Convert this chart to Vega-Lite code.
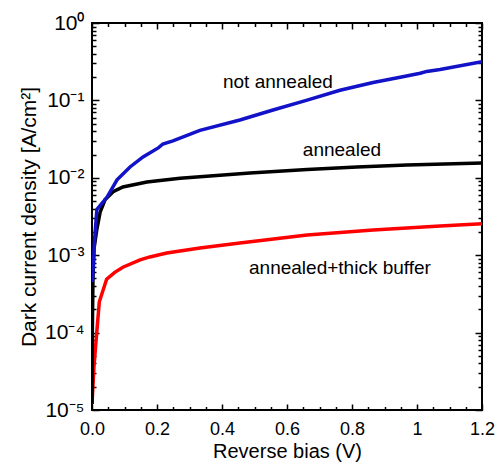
{
  "$schema": "https://vega.github.io/schema/vega-lite/v6.json",
  "width": 390,
  "height": 387,
  "autosize": "none",
  "padding": {"left": 92, "top": 23, "right": 15, "bottom": 61},
  "background": "white",
  "config": {
    "view": {"stroke": "black", "strokeWidth": 2},
    "font": "Liberation Sans",
    "axis": {"labelFont": "Liberation Sans", "titleFont": "Liberation Sans", "labelColor": "black", "titleColor": "black", "tickColor": "black", "titleFontWeight": "normal", "grid": false, "domain": false}
  },
  "datasets": {
    "curves": [
      {"series": "annealed+thick buffer", "bias": 0.0, "j": 1.2e-5},
      {"series": "annealed+thick buffer", "bias": 0.006, "j": 3.6e-5},
      {"series": "annealed+thick buffer", "bias": 0.0145, "j": 9.9e-5},
      {"series": "annealed+thick buffer", "bias": 0.0225, "j": 2.5e-4},
      {"series": "annealed+thick buffer", "bias": 0.045, "j": 4.9e-4},
      {"series": "annealed+thick buffer", "bias": 0.07, "j": 6.0e-4},
      {"series": "annealed+thick buffer", "bias": 0.095, "j": 7.0e-4},
      {"series": "annealed+thick buffer", "bias": 0.148, "j": 8.7e-4},
      {"series": "annealed+thick buffer", "bias": 0.178, "j": 9.5e-4},
      {"series": "annealed+thick buffer", "bias": 0.23, "j": 1.07e-3},
      {"series": "annealed+thick buffer", "bias": 0.332, "j": 1.24e-3},
      {"series": "annealed+thick buffer", "bias": 0.455, "j": 1.44e-3},
      {"series": "annealed+thick buffer", "bias": 0.662, "j": 1.82e-3},
      {"series": "annealed+thick buffer", "bias": 0.865, "j": 2.12e-3},
      {"series": "annealed+thick buffer", "bias": 1.071, "j": 2.38e-3},
      {"series": "annealed+thick buffer", "bias": 1.2, "j": 2.55e-3},
      {"series": "annealed", "bias": 0.0, "j": 1.2e-5},
      {"series": "annealed", "bias": 0.001, "j": 1.0e-4},
      {"series": "annealed", "bias": 0.003, "j": 5.0e-4},
      {"series": "annealed", "bias": 0.006, "j": 1.2e-3},
      {"series": "annealed", "bias": 0.0145, "j": 2.1e-3},
      {"series": "annealed", "bias": 0.025, "j": 3.6e-3},
      {"series": "annealed", "bias": 0.04, "j": 5.2e-3},
      {"series": "annealed", "bias": 0.065, "j": 6.6e-3},
      {"series": "annealed", "bias": 0.095, "j": 7.6e-3},
      {"series": "annealed", "bias": 0.169, "j": 8.8e-3},
      {"series": "annealed", "bias": 0.271, "j": 9.9e-3},
      {"series": "annealed", "bias": 0.486, "j": 0.0115},
      {"series": "annealed", "bias": 0.662, "j": 0.0128},
      {"series": "annealed", "bias": 0.815, "j": 0.0138},
      {"series": "annealed", "bias": 0.969, "j": 0.0146},
      {"series": "annealed", "bias": 1.2, "j": 0.0155},
      {"series": "not annealed", "bias": 0.001, "j": 4.5e-4},
      {"series": "not annealed", "bias": 0.008, "j": 1.6e-3},
      {"series": "not annealed", "bias": 0.015, "j": 3.9e-3},
      {"series": "not annealed", "bias": 0.046, "j": 5.6e-3},
      {"series": "not annealed", "bias": 0.077, "j": 9.4e-3},
      {"series": "not annealed", "bias": 0.117, "j": 0.0138},
      {"series": "not annealed", "bias": 0.157, "j": 0.0186},
      {"series": "not annealed", "bias": 0.205, "j": 0.0245},
      {"series": "not annealed", "bias": 0.218, "j": 0.0273},
      {"series": "not annealed", "bias": 0.249, "j": 0.03},
      {"series": "not annealed", "bias": 0.332, "j": 0.041},
      {"series": "not annealed", "bias": 0.455, "j": 0.0558},
      {"series": "not annealed", "bias": 0.557, "j": 0.0752},
      {"series": "not annealed", "bias": 0.662, "j": 0.101},
      {"series": "not annealed", "bias": 0.763, "j": 0.135},
      {"series": "not annealed", "bias": 0.865, "j": 0.17},
      {"series": "not annealed", "bias": 0.96, "j": 0.204},
      {"series": "not annealed", "bias": 1.01, "j": 0.224},
      {"series": "not annealed", "bias": 1.03, "j": 0.237},
      {"series": "not annealed", "bias": 1.071, "j": 0.251},
      {"series": "not annealed", "bias": 1.2, "j": 0.316}
    ],
    "labels": [
      {"bias": 0.572, "j": 0.173, "text": "not annealed"},
      {"bias": 0.769, "j": 0.0229, "text": "annealed"},
      {"bias": 0.763, "j": 6.84e-4, "text": "annealed+thick buffer"}
    ]
  },
  "data": {"name": "curves"},
  "resolve": {"axis": {"x": "independent", "y": "independent"}},
  "layer": [
    {
      "mark": {"type": "line", "strokeWidth": 3.5, "clip": true},
      "encoding": {
        "x": {"field": "bias", "type": "quantitative", "scale": {"domain": [0, 1.2], "nice": false},
          "axis": {"orient": "bottom", "values": [0, 0.2, 0.4, 0.6, 0.8, 1, 1.2], "labelExpr": "datum.value == 1 ? '1' : format(datum.value, '.1f')", "ticks": false, "labelFontSize": 18, "labelPadding": 10, "labelFlush": false, "title": "Reverse bias (V)", "titleFontSize": 20, "titleX": 195, "titleY": 47, "titleBaseline": "alphabetic"}},
        "y": {"field": "j", "type": "quantitative", "scale": {"type": "log", "domain": [1e-5, 1], "nice": false},
          "axis": {"orient": "left", "values": [1e-5, 1e-4, 1e-3, 1e-2, 1e-1, 1], "labelExpr": "'10' + (datum.value >= 0.5 ? '⁰' : datum.value >= 0.05 ? '⁻¹' : datum.value >= 0.005 ? '⁻²' : datum.value >= 0.0005 ? '⁻³' : datum.value >= 0.00005 ? '⁻⁴' : '⁻⁵')", "ticks": false, "labelFontSize": 21, "labelPadding": 8, "labelFlush": false, "title": "Dark current density [A/cm²]", "titleFontSize": 21, "titleX": -57, "titleY": 193.5, "titleBaseline": "alphabetic", "titleAngle": -90}},
        "color": {"field": "series", "type": "nominal", "legend": null,
          "scale": {"domain": ["annealed+thick buffer", "annealed", "not annealed"], "range": ["#ff0000", "#000000", "#1212c8"]}}
      }
    },
    {
      "mark": {"type": "point", "opacity": 0},
      "encoding": {
        "x": {"field": "bias", "type": "quantitative", "axis": {"orient": "bottom", "values": [0, 0.2, 0.4, 0.6, 0.8, 1, 1.2], "labels": false, "tickSize": -6, "tickWidth": 1.5, "title": null}},
        "y": {"field": "j", "type": "quantitative", "axis": {"orient": "left", "values": [1e-5, 1e-4, 1e-3, 1e-2, 1e-1, 1], "labels": false, "tickSize": -7, "tickWidth": 1.5, "title": null}}
      }
    },
    {
      "mark": {"type": "point", "opacity": 0},
      "encoding": {
        "x": {"field": "bias", "type": "quantitative", "axis": {"orient": "bottom", "values": [0.05, 0.1, 0.15, 0.25, 0.3, 0.35, 0.45, 0.5, 0.55, 0.65, 0.7, 0.75, 0.85, 0.9, 0.95, 1.05, 1.1, 1.15], "labels": false, "tickSize": -3.5, "tickWidth": 1.5, "title": null}},
        "y": {"field": "j", "type": "quantitative", "axis": {"orient": "left", "values": [2e-5, 3e-5, 4e-5, 5e-5, 6e-5, 7e-5, 8e-5, 9e-5, 2e-4, 3e-4, 4e-4, 5e-4, 6e-4, 7e-4, 8e-4, 9e-4, 2e-3, 3e-3, 4e-3, 5e-3, 6e-3, 7e-3, 8e-3, 9e-3, 2e-2, 3e-2, 4e-2, 5e-2, 6e-2, 7e-2, 8e-2, 9e-2, 0.2, 0.3, 0.4, 0.5, 0.6, 0.7, 0.8, 0.9], "labels": false, "tickSize": -4, "tickWidth": 1.5, "title": null}}
      }
    },
    {
      "mark": {"type": "point", "opacity": 0},
      "encoding": {
        "x": {"field": "bias", "type": "quantitative", "axis": {"orient": "top", "values": [0, 0.2, 0.4, 0.6, 0.8, 1, 1.2], "labels": false, "tickSize": -6, "tickWidth": 1.5, "title": null}},
        "y": {"field": "j", "type": "quantitative", "axis": {"orient": "right", "values": [1e-5, 1e-4, 1e-3, 1e-2, 1e-1, 1], "labels": false, "tickSize": -7, "tickWidth": 1.5, "title": null}}
      }
    },
    {
      "mark": {"type": "point", "opacity": 0},
      "encoding": {
        "x": {"field": "bias", "type": "quantitative", "axis": {"orient": "top", "values": [0.05, 0.1, 0.15, 0.25, 0.3, 0.35, 0.45, 0.5, 0.55, 0.65, 0.7, 0.75, 0.85, 0.9, 0.95, 1.05, 1.1, 1.15], "labels": false, "tickSize": -3.5, "tickWidth": 1.5, "title": null}},
        "y": {"field": "j", "type": "quantitative", "axis": {"orient": "right", "values": [2e-5, 3e-5, 4e-5, 5e-5, 6e-5, 7e-5, 8e-5, 9e-5, 2e-4, 3e-4, 4e-4, 5e-4, 6e-4, 7e-4, 8e-4, 9e-4, 2e-3, 3e-3, 4e-3, 5e-3, 6e-3, 7e-3, 8e-3, 9e-3, 2e-2, 3e-2, 4e-2, 5e-2, 6e-2, 7e-2, 8e-2, 9e-2, 0.2, 0.3, 0.4, 0.5, 0.6, 0.7, 0.8, 0.9], "labels": false, "tickSize": -4, "tickWidth": 1.5, "title": null}}
      }
    },
    {
      "data": {"name": "labels"},
      "mark": {"type": "text", "fontSize": 19, "font": "Liberation Sans", "align": "center", "baseline": "middle", "color": "black"},
      "encoding": {
        "x": {"field": "bias", "type": "quantitative", "axis": null},
        "y": {"field": "j", "type": "quantitative", "axis": null},
        "text": {"field": "text"}
      }
    }
  ]
}
